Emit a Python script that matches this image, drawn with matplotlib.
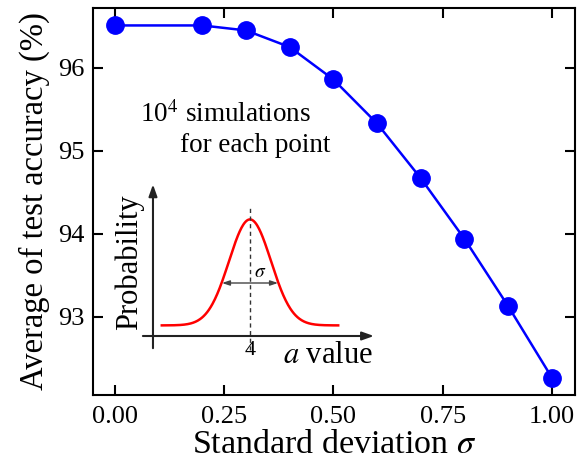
import numpy as np
import matplotlib
matplotlib.use('Agg')
import matplotlib.pyplot as plt

# Average test accuracy vs. standard deviation of the weight noise
sigma = [0.0, 0.2, 0.3, 0.4, 0.5, 0.6, 0.7, 0.8, 0.9, 1.0]
accuracy = [96.51, 96.51, 96.45, 96.25, 95.86, 95.33, 94.67, 93.94, 93.13, 92.27]

x_ticks = [0.0, 0.25, 0.5, 0.75, 1.0]
x_tick_labels = ['0.00', '0.25', '0.50', '0.75', '1.00']
y_ticks = [93, 94, 95, 96]

plt.rcParams['font.family'] = ['Liberation Serif', 'DejaVu Serif']
plt.rcParams['mathtext.fontset'] = 'stix'

fig = plt.figure(figsize=(5.86, 4.66), dpi=100)
ax = fig.add_axes([93 / 586, 1 - 395 / 466, 482 / 586, 387 / 466])

ax.plot(sigma, accuracy, color='#0000ff', lw=1.8, marker='o',
        markersize=12.5, markerfacecolor='#0000ff', markeredgecolor='#0000ff',
        zorder=3)

ax.set_xlim(-0.05, 1.053)
ax.set_ylim(92.06, 96.72)
ax.set_xticks(x_ticks)
ax.set_xticklabels(x_tick_labels)
ax.set_yticks(y_ticks)
ax.tick_params(direction='in', length=7, width=1.5, labelsize=19,
               top=True, right=True, pad=6)
ax.tick_params(axis='x', pad=8)
for sp in ax.spines.values():
    sp.set_linewidth(1.5)

ax.set_xlabel(r'Standard deviation $\sigma$', fontsize=24.5, labelpad=1)
ax.set_ylabel('Average of test accuracy (%)', fontsize=23.5, labelpad=6)

ax.text(0.0975, 0.705, r'10$^4$ simulations', transform=ax.transAxes,
        fontsize=19.5, ha='left', va='baseline')
ax.text(0.18, 0.628, 'for each point', transform=ax.transAxes,
        fontsize=19.5, ha='left', va='baseline')

# ── Inset schematic: Gaussian distribution of the a value ─────────────────────
px_unit = 21.0       # pixels per unit of a
py_unit = 106.0      # pixels per unit of probability
box_l, box_r, box_t, box_b = 100, 400, 172, 372
axis_px, center_px = 336, 250

ins = fig.add_axes([box_l / 586, 1 - box_b / 466,
                    (box_r - box_l) / 586, (box_b - box_t) / 466])
ins.set_xlim(4 + (box_l - center_px) / px_unit, 4 + (box_r - center_px) / px_unit)
ins.set_ylim((axis_px - box_b) / py_unit, (axis_px - box_t) / py_unit)
ins.axis('off')
ins.patch.set_alpha(0)

mu, s = 4.0, 1.0
a = np.linspace(mu - 4.2 * s, mu + 4.2 * s, 300)
p = 0.1 + np.exp(-(a - mu) ** 2 / (2 * s ** 2))
ins.plot(a, p, color='#ff0000', lw=1.8)

arrow_kw = dict(arrowstyle='-|>,head_length=0.7,head_width=0.25',
                color='#222222', lw=1.5, shrinkA=0, shrinkB=0)
ins.annotate('', xy=(9.9, 0), xytext=(-1.1, 0), arrowprops=arrow_kw)
ins.annotate('', xy=(-0.62, 1.43), xytext=(-0.62, -0.115), arrowprops=arrow_kw)

ins.plot([mu, mu], [-0.13, 1.24], color='#333333', lw=1.0, ls=(0, (3, 2.5)))

half = s * np.sqrt(2 * np.log(1 / 0.41))
ins.annotate('', xy=(mu - half, 0.5), xytext=(mu + half, 0.5),
             arrowprops=dict(arrowstyle='<|-|>,head_length=0.45,head_width=0.15',
                             color='#444444', lw=1.0, shrinkA=0, shrinkB=0))
ins.text(mu + 0.5, 0.6, r'$\sigma$', fontsize=14, ha='center', va='center')

ins.text(mu, -0.05, '4', fontsize=16, ha='center', va='top')
ins.text(7.7, -0.255, r'$a$ value', fontsize=22, ha='center', va='baseline')
ins.text(-1.75, 0.7, 'Probability', fontsize=22, rotation=90,
         ha='center', va='center')

fig.savefig('out.png', dpi=100)
